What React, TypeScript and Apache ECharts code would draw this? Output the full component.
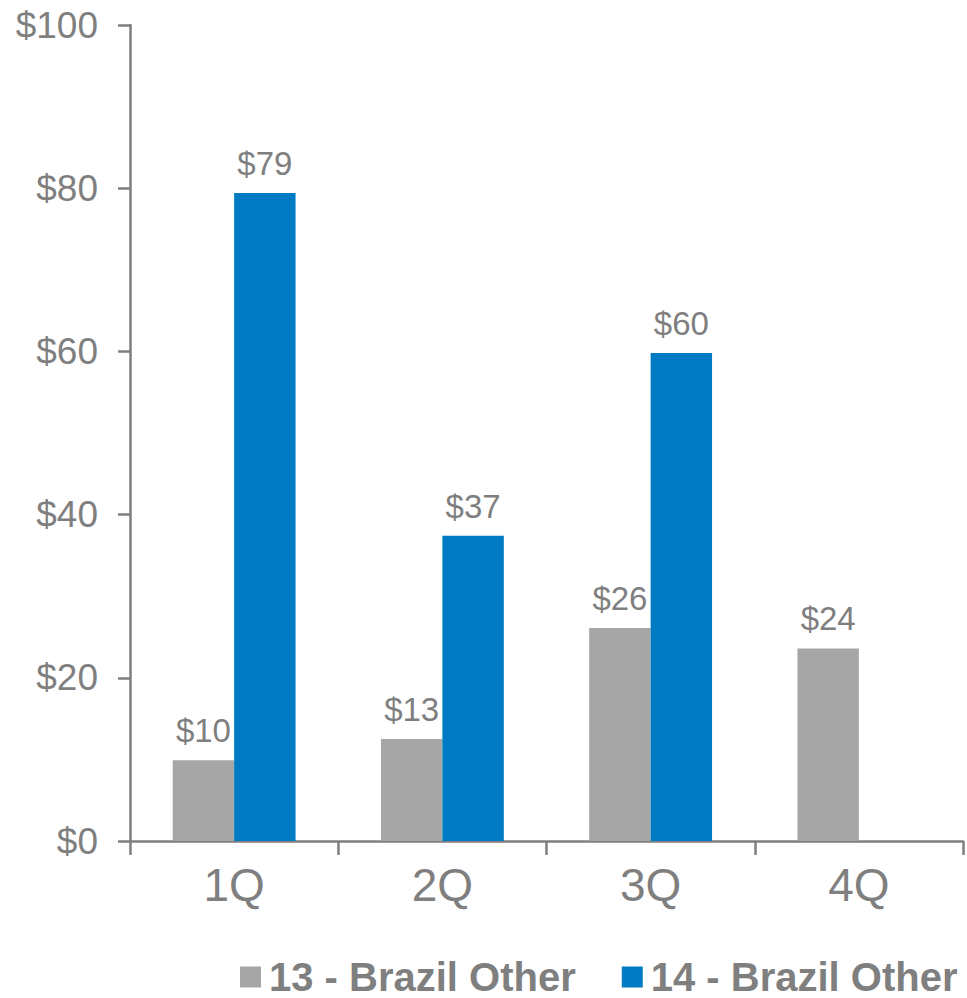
import React, { useEffect, useRef } from "react";
import * as echarts from "echarts";

const categories = ["1Q", "2Q", "3Q", "4Q"];
const seriesNames = ["13 - Brazil Other", "14 - Brazil Other"];
const values13 = [9.9, 12.5, 26.1, 23.6];
const values14: (number | null)[] = [79.4, 37.4, 59.8, null];
const yTicks = { min: 0, max: 100, interval: 20 };

const GRAY_TEXT = "#7f7f7f";
const FONT = "'Liberation Sans', Arial, Helvetica, sans-serif";

export default function App() {
  const ref = useRef<HTMLDivElement>(null);
  useEffect(() => {
    document.body.style.margin = "0";
    if (!ref.current) return;
    const chart = echarts.init(ref.current, undefined, { renderer: "svg" });
    const label = {
      show: true,
      position: "top",
      distance: 13,
      fontSize: 33,
      color: GRAY_TEXT,
      fontFamily: FONT,
      formatter: (p: any) => "$" + Math.round(p.value),
    };
    chart.setOption({
      animation: false,
      backgroundColor: "#ffffff",
      grid: { left: 130, right: 4, top: 25, bottom: 157, containLabel: false },
      legend: {
        left: 240,
        top: 957,
        padding: 0,
        icon: "rect",
        itemWidth: 21,
        itemHeight: 21,
        itemGap: 46,
        textStyle: {
          fontSize: 40,
          lineHeight: 40,
          fontWeight: "bold",
          color: GRAY_TEXT,
          fontFamily: FONT,
          padding: [0, 0, 0, 3],
        },
        data: seriesNames,
      },
      xAxis: {
        type: "category",
        data: categories,
        axisLine: { show: true, lineStyle: { color: GRAY_TEXT, width: 2.5 } },
        axisTick: { show: true, length: 14, lineStyle: { color: GRAY_TEXT, width: 2.5 } },
        axisLabel: { fontSize: 46, color: GRAY_TEXT, fontFamily: FONT, margin: 21 },
        splitLine: { show: false },
      },
      yAxis: {
        type: "value",
        min: yTicks.min,
        max: yTicks.max,
        interval: yTicks.interval,
        axisLine: { show: true, lineStyle: { color: GRAY_TEXT, width: 2.5 } },
        axisTick: { show: true, length: 12, lineStyle: { color: GRAY_TEXT, width: 2.5 } },
        axisLabel: {
          fontSize: 37,
          color: GRAY_TEXT,
          fontFamily: FONT,
          margin: 32,
          formatter: (v: number) => "$" + v,
        },
        splitLine: { show: false },
      },
      series: [
        {
          name: seriesNames[0],
          type: "bar",
          data: values13,
          itemStyle: { color: "#a6a6a6" },
          barGap: "0%",
          barCategoryGap: "41%",
          label,
        },
        {
          name: seriesNames[1],
          type: "bar",
          data: values14,
          itemStyle: { color: "#007bc3" },
          barGap: "0%",
          barCategoryGap: "41%",
          label,
        },
      ],
    });
    return () => chart.dispose();
  }, []);
  return <div ref={ref} style={{ width: 967, height: 998 }} />;
}
